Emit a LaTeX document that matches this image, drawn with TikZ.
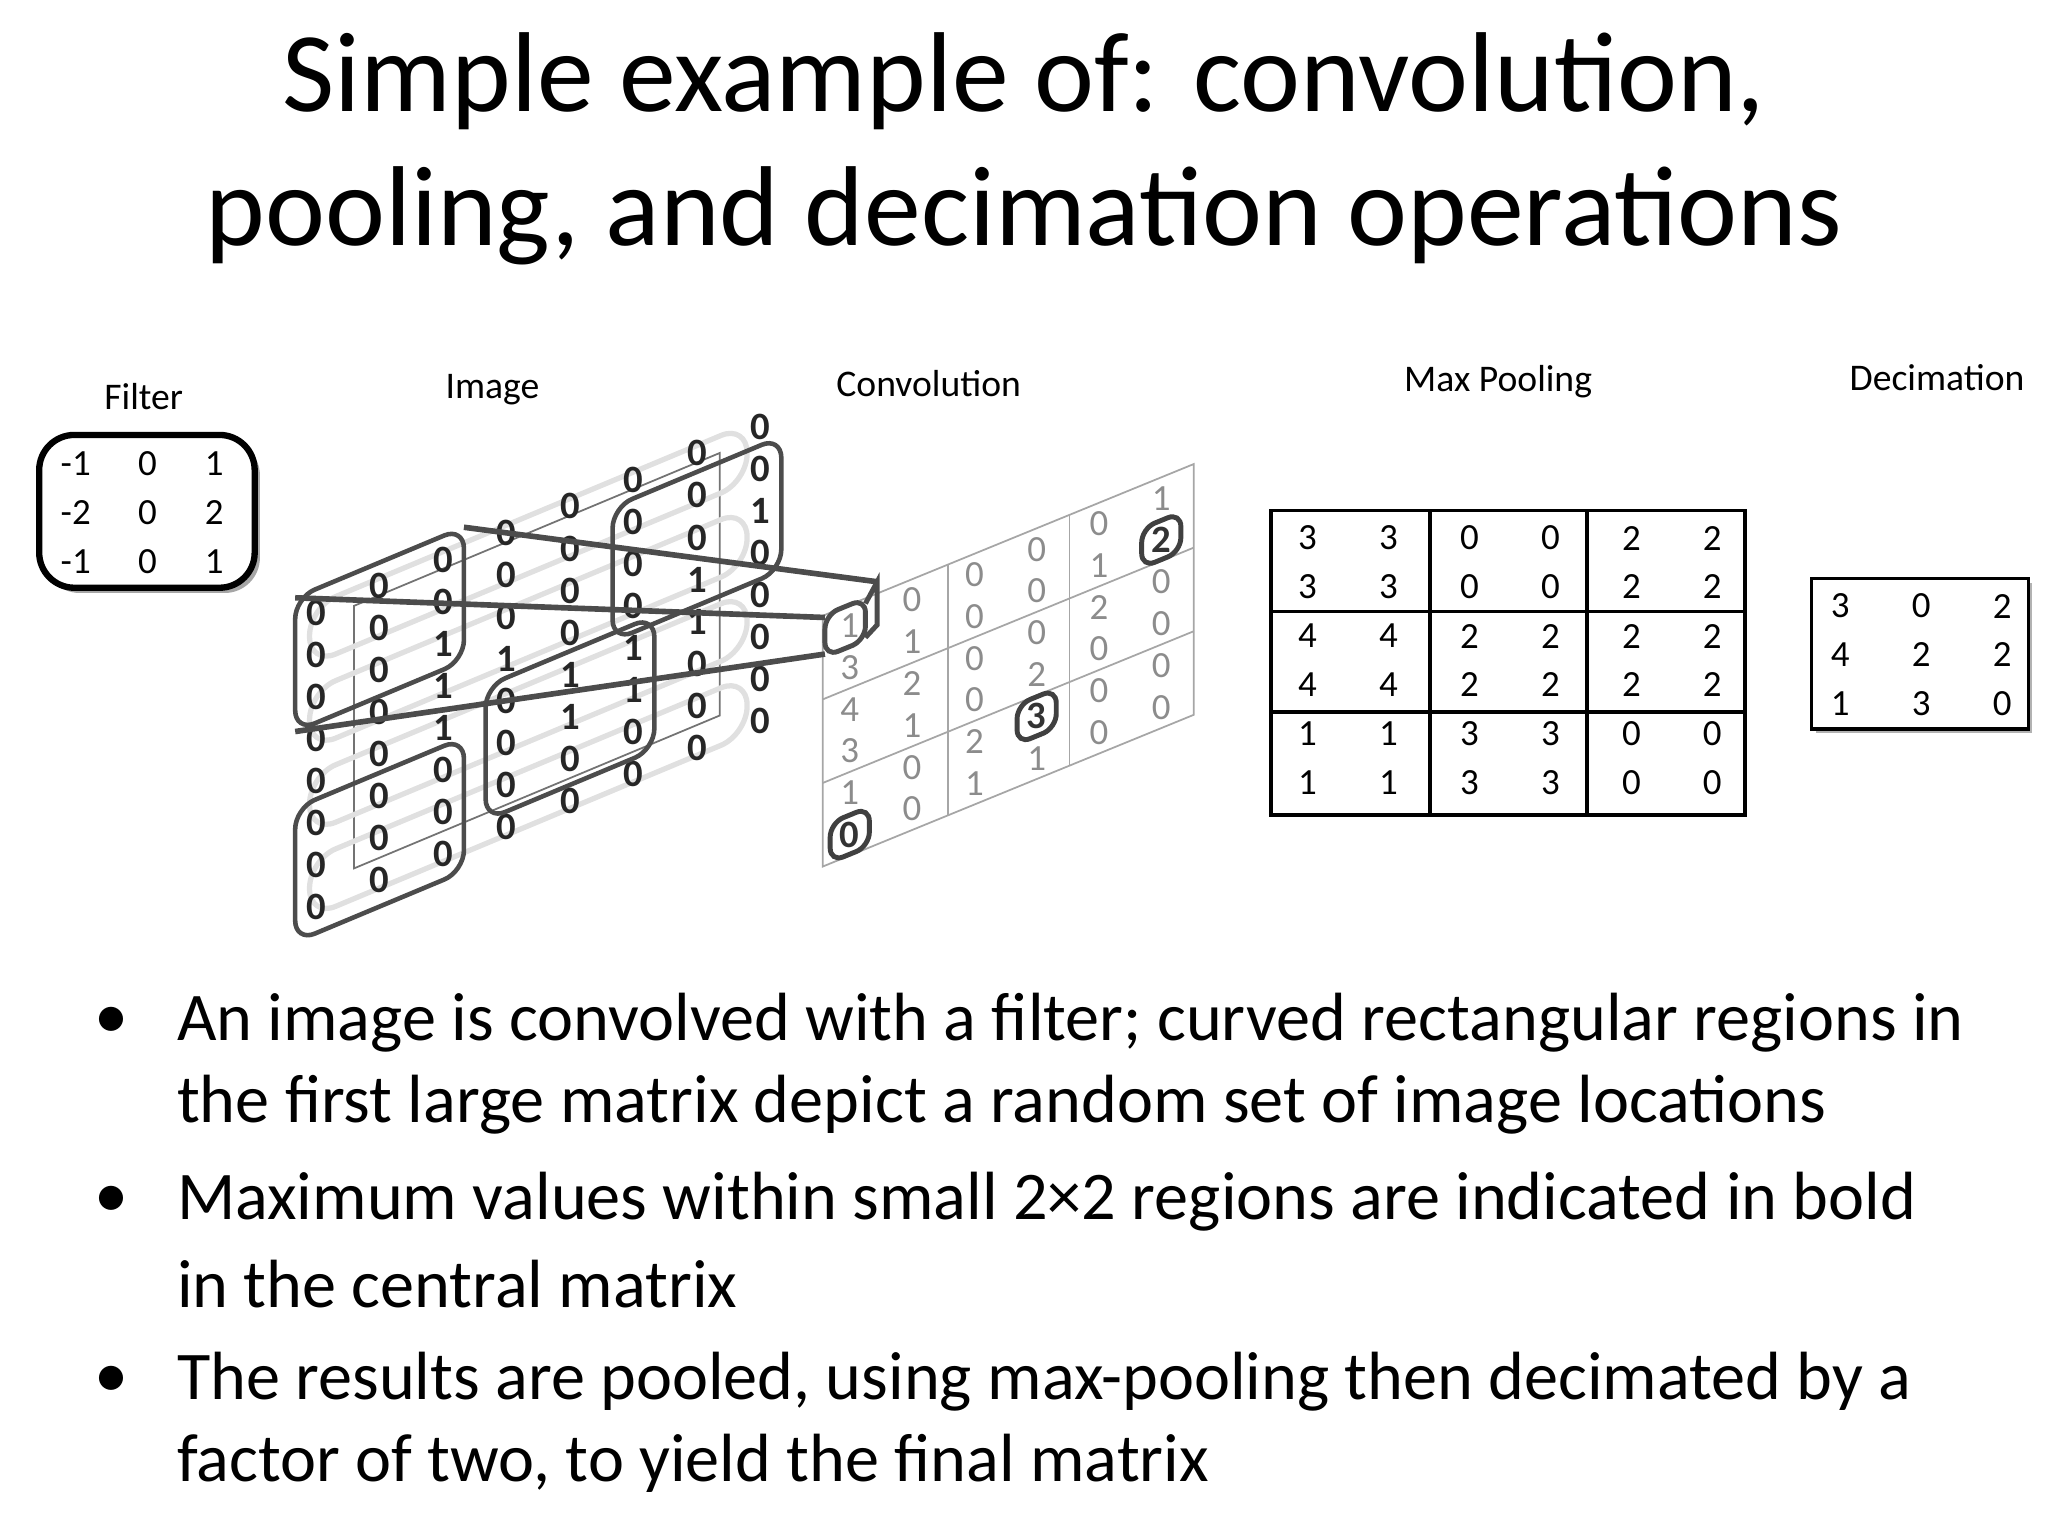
\documentclass[tikz,border=0pt]{standalone}
\usepackage{fontspec}
\setmainfont{Carlito}
\begin{document}
\begin{tikzpicture}[x=0.3714pt,y=-0.3714pt,
  lbl/.style={font=\fontsize{10.7}{12}\selectfont},
  num/.style={font=\fontsize{10.5}{12}\selectfont},
  img/.style={font=\fontsize{11}{12}\selectfont\bfseries, text=black!85},
  cv/.style={font=\fontsize{10.5}{12}\selectfont, text=black!45},
  cvb/.style={font=\fontsize{11}{12}\selectfont\bfseries, text=black!80},
  rbox/.style={draw=black!70, line width=1.3pt, rounded corners=6pt},
  conn/.style={draw=black!70, line width=1.6pt},
  bul/.style={anchor=west, font=\fontsize{19.4}{22}\selectfont, inner sep=0pt},
  ttl/.style={font=\fontsize{32.3}{36}\selectfont}]
\useasboundingbox (0,0) rectangle (1568,1176);
% title
\node[ttl] (t1) at (784,62) {Simple example of: convolution,};
\node[ttl] (t2) at (784,165) {pooling, and decimation operations};
% labels
\node[lbl] (lf) at (110,304) {Filter};
\node[lbl] (li) at (377,298) {Image};
\node[lbl] (lc) at (711,294) {Convolution};
\node[lbl] (lm) at (1147,292) {Max Pooling};
\node[lbl] (ld) at (1483,289) {Decimation};
% filter
\fill[black!35, rounded corners=10pt] (34,337) rectangle (199,454);
\draw[fill=white, line width=1.8pt, rounded corners=10pt] (30,333) rectangle (195,450);
\foreach \r/\a/\b/\c in {0/-1/0/1,1/-2/0/2,2/-1/0/1}{
  \node[num] (f\r a) at (58,355+37.5*\r) {\a};
  \node[num] (f\r b) at (113,355+37.5*\r) {\b};
  \node[num] (f\r c) at (164,355+37.5*\r) {\c};
}
% image
\begin{scope}[shift={(242,469)}, yslant=0.418]
  \draw[black!55, line width=0.5pt] (29,7) rectangle (309,208);
  \foreach \r in {0,2,4,6}{
    \draw[black!12, line width=1.5pt, rounded corners=8pt] (-5,32.2*\r-6) rectangle (330,32.2*\r+38);
  }
  \foreach \c/\vals in {0/{0,0,0,0,0,0,0,0},1/{0,0,0,0,0,0,0,0},2/{0,0,1,1,1,0,0,0},3/{0,0,0,1,0,0,0,0},4/{0,0,0,0,1,1,0,0},5/{0,0,0,0,1,1,0,0},6/{0,0,0,1,1,0,0,0},7/{0,0,1,0,0,0,0,0}}{
    \foreach \v [count=\r from 0] in \vals {
      \node[img] (i\c-\r) at (48.6*\c,32.2*\r) {\v};
    }
  }
  \foreach \c/\r/\n in {0/0/A,5/1/B,3/4/C,0/5/D}{
    \draw[rbox] (48.6*\c-16,32.2*\r-18) rectangle (48.6*\c+113.2,32.2*\r+84.4);
    \coordinate (\n tl) at (48.6*\c-16,32.2*\r-18);
    \coordinate (\n tr) at (48.6*\c+113.2,32.2*\r-18);
    \coordinate (\n bl) at (48.6*\c-16,32.2*\r+84.4);
  }
\end{scope}
% convolution
\begin{scope}[shift={(650.6,479)}, yslant=0.409]
  \draw[black!35, line width=0.5pt] (-20.6,-16) rectangle (263.4,176);
  \foreach \x in {75,168.2} \draw[black!35, line width=0.5pt] (\x,-16) -- (\x,176);
  \foreach \y in {48,112} \draw[black!35, line width=0.5pt] (-20.6,\y) -- (263.4,\y);
  \foreach \c/\vals in {0/{1,3,4,3,1,},1/{0,1,2,1,0,0},2/{0,0,0,0,2,1},3/{0,0,0,2,,1},4/{0,1,2,0,0,0},5/{1,,0,0,0,0}}{
    \foreach \v [count=\r from 0] in \vals {
      \node[cv] (k\c-\r) at (47.7*\c,32*\r) {\v};
    }
  }
  \foreach \c/\r/\v in {5/1/2,3/4/3,0/5/0}{
    \draw[draw=black!75, line width=1.4pt, rounded corners=4pt] (47.7*\c-15,32*\r-15) rectangle (47.7*\c+15,32*\r+15);
    \node[cvb] (kb\c) at (47.7*\c,32*\r) {\v};
  }
  \draw[draw=black!70, line width=1.4pt, rounded corners=4pt] (-19,-16) rectangle (12,16);
  \coordinate (Ktl) at (-19,-14);
  \coordinate (Kbl) at (-19,14);
  \coordinate (Ktr) at (21,-25);
  \draw[black!70, line width=1.4pt] (12,-12) -- (Ktr) -- (21,8) -- (12,14);
\end{scope}
\draw[conn] (Atl) -- (Ktl);
\draw[conn] (Atr) -- (Ktr);
\draw[conn] (Abl) -- (Kbl);
% max pooling
\draw[line width=1pt] (973,391) rectangle (1336,624);
\draw[line width=1pt] (1095,391) -- (1095,624) (1215,391) -- (1215,624) (973,468) -- (1336,468) (973,545) -- (1336,545);
\foreach \vals [count=\r from 0] in {{3,3,0,0,2,2},{3,3,0,0,2,2},{4,4,2,2,2,2},{4,4,2,2,2,2},{1,1,3,3,0,0},{1,1,3,3,0,0}}{
  \foreach \v [count=\c from 0] in \vals {
    \node[num] (m\r-\c) at (1001+62*\c,{412+37*\r+(\r>1?1:0)+(\r>3?1:0)}) {\v};
  }
}
% decimation
\fill[black!30] (1390,446) rectangle (1556,561);
\draw[fill=white, line width=1pt] (1387,443) rectangle (1553,558);
\foreach \vals [count=\r from 0] in {{3,0,2},{4,2,2},{1,3,0}}{
  \foreach \v [count=\c from 0] in \vals {
    \node[num] (d\r-\c) at (1409+62*\c,464+37.5*\r) {\v};
  }
}
% bullets
\foreach \y/\n in {783/b1,920/b2,1058/b3}{
  \node[font=\fontsize{19.4}{22}\selectfont] (\n) at (85,\y) {•};
}
\node[bul] (l1) at (135,783) {An image is convolved with a filter; curved rectangular regions in};
\node[bul] (l2) at (135,846) {the first large matrix depict a random set of image locations};
\node[bul] (l3) at (135,920) {Maximum values within small 2×2 regions are indicated in bold};
\node[bul] (l4) at (135,983) {in the central matrix};
\node[bul] (l5) at (135,1058) {The results are pooled, using max-pooling then decimated by a};
\node[bul] (l6) at (135,1120) {factor of two, to yield the final matrix};
\end{tikzpicture}
\end{document}
